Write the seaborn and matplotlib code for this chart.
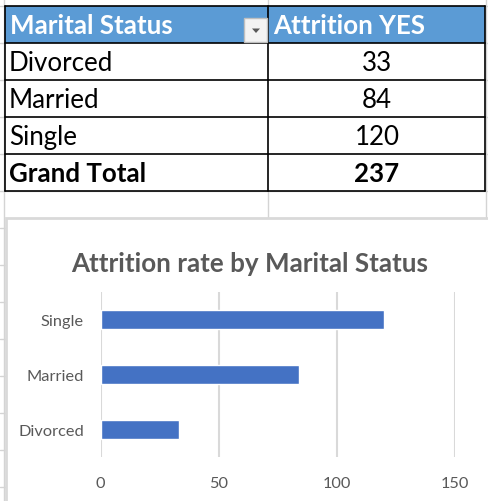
import matplotlib
matplotlib.use("Agg")
import matplotlib.pyplot as plt
from matplotlib.patches import Rectangle, Polygon
import seaborn as sns
import pandas as pd

# ---- data ----
statuses = ["Divorced", "Married", "Single"]
attrition_yes = [33, 84, 120]
grand_total_label = "Grand Total"
grand_total = 237
header_labels = ["Marital Status", "Attrition YES"]
chart_title = "Attrition rate by Marital Status"
x_ticks = [0, 50, 100, 150]

sns.set_theme(style="white")
plt.rcParams["font.family"] = ["Lato", "DejaVu Sans"]

W, H = 489, 502
fig = plt.figure(figsize=(W / 100, H / 100), dpi=100)
fig.patch.set_facecolor("white")

# background axes in pixel coordinates
bg = fig.add_axes([0, 0, 1, 1])
bg.set_xlim(0, W)
bg.set_ylim(H, 0)
bg.axis("off")

grid_c = "#D4D4D4"
# sheet gridlines
for yy in range(7, H, 37):
    bg.plot([0, W], [yy, yy], color=grid_c, lw=1, zorder=0)
for xx in [4, 268, 486]:
    bg.plot([xx, xx], [0, H], color=grid_c, lw=1, zorder=0)

# table
tl, tr, tm = 5, 485, 268
row_h = 37
top = 7
bg.add_patch(Rectangle((tl, top), tr - tl, row_h, facecolor="#5B9BD5", edgecolor="none", zorder=2))
rows = [(s, str(v), False) for s, v in zip(statuses, attrition_yes)] + [(grand_total_label, str(grand_total), True)]
n_rows = len(rows) + 1
bg.add_patch(Rectangle((tl, top + row_h), tr - tl, row_h * len(rows), facecolor="white", edgecolor="none", zorder=2))
for i in range(n_rows + 1):
    yy = top + i * row_h
    bg.plot([tl, tr], [yy, yy], color="black", lw=1.2, zorder=3)
for xx in [tl, tm, tr]:
    bg.plot([xx, xx], [top, top + n_rows * row_h], color="black", lw=1.2, zorder=3)

fs_tab = 18.6
bg.text(10, top + row_h / 2 + 1, header_labels[0], color="white", fontsize=fs_tab, fontweight="bold",
        ha="left", va="center", zorder=4)
bg.text(273, top + row_h / 2 + 1, header_labels[1], color="white", fontsize=fs_tab, fontweight="bold",
        ha="left", va="center", zorder=4)
# dropdown button
bg.add_patch(Rectangle((244, 19), 23, 24, facecolor="#F3F3F3", edgecolor="#BFBFBF", lw=1, zorder=4))
bg.add_patch(Polygon([[252, 29.5], [260, 29.5], [256, 34]], closed=True, facecolor="#595959", edgecolor="none", zorder=5))

for i, (lab, val, bold) in enumerate(rows):
    yc = top + (i + 1) * row_h + row_h / 2 + 1
    bg.text(9, yc, lab, color="black", fontsize=fs_tab, fontweight="bold" if bold else "normal",
            ha="left", va="center", zorder=4)
    bg.text(377, yc, val, color="black", fontsize=fs_tab, fontweight="bold" if bold else "normal",
            ha="center", va="center", zorder=4)

# chart area
bg.add_patch(Rectangle((6, 219), W + 10, H, facecolor="white", edgecolor="#D9D9D9", lw=2, zorder=5))
bg.text(250, 264, chart_title, color="#595959", fontsize=18.7, fontweight="bold",
        ha="center", va="center", zorder=6)

# bar chart
df = pd.DataFrame({"status": statuses, "count": attrition_yes})
ax = fig.add_axes([100.7 / W, 1 - 458 / H, 354.6 / W, 165 / H])
ax.set_zorder(7)
ax.patch.set_alpha(0)
sns.barplot(data=df, x="count", y="status", order=["Single", "Married", "Divorced"],
            color="#4472C4", width=0.34, saturation=1, orient="h", ax=ax, zorder=3)
ax.set_xlim(0, 150)
ax.set_xticks(x_ticks)
ax.set_xticklabels([str(t) for t in x_ticks])
ax.set_ylim(2.5, -0.5)
ax.grid(axis="x", color="#D9D9D9", lw=1.5, zorder=0)
ax.grid(axis="y", visible=False)
ax.set_axisbelow(True)
for sp in ax.spines.values():
    sp.set_visible(False)
ax.set_xlabel("")
ax.set_ylabel("")
ax.tick_params(axis="x", length=0, pad=14, labelsize=11.8, labelcolor="#595959")
ax.tick_params(axis="y", length=0, pad=12, labelsize=11.8, labelcolor="#595959")

fig.savefig("out.png", dpi=100, facecolor="white")
